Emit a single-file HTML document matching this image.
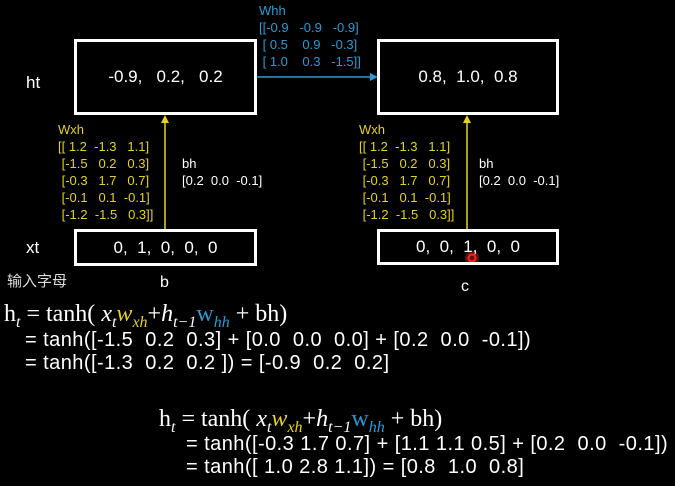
<!DOCTYPE html>
<html><head><meta charset="utf-8"><style>
body{margin:0;width:675px;height:486px;background:#000;overflow:hidden;position:relative;font-family:"Liberation Sans","Noto Sans CJK SC",sans-serif;color:#fff}
.a{position:absolute;white-space:pre;line-height:1}
.box{position:absolute;border:3px solid #fff;box-sizing:border-box;display:flex;align-items:center;justify-content:center;font-size:17px;white-space:pre}
.y{color:#e6d21e}.b{color:#2a9ad6}
.m{font-size:13px;line-height:17px}
.s{font-family:"Liberation Serif",serif;font-size:24px}
.s sub{font-size:16px}
.i{font-style:italic}
.eq{font-size:20px;letter-spacing:0.45px}
</style></head><body>
<div class="a b m" style="left:259px;top:2px">Whh
[[-0.9   -0.9   -0.9]
 [ 0.5    0.9   -0.3]
 [ 1.0    0.3   -1.5]]</div>
<svg class="a" style="left:0;top:0" width="675" height="486">
<line x1="256" y1="77" x2="372" y2="77" stroke="#2a9ad6" stroke-width="1.5"/>
<polygon points="378,77 370,73 370,81" fill="#2a9ad6"/>
<line x1="165" y1="230" x2="165" y2="121" stroke="#e6d21e" stroke-width="1.5"/>
<polygon points="165,115 161,123 169,123" fill="#e6d21e"/>
<line x1="467" y1="229" x2="467" y2="121" stroke="#e6d21e" stroke-width="1.5"/>
<polygon points="467,115 463,123 471,123" fill="#e6d21e"/>
<circle cx="472" cy="258" r="7" fill="rgba(255,60,60,0.35)"/>
<circle cx="472" cy="258" r="3.5" fill="none" stroke="#ff2020" stroke-width="2"/>
</svg>
<div class="a" style="left:26px;top:74px;font-size:17px">ht</div>
<div class="box" style="left:74px;top:39px;width:183px;height:76px">-0.9,   0.2,   0.2</div>
<div class="box" style="left:377px;top:39px;width:182px;height:76px">0.8,  1.0,  0.8</div>
<div class="a y m" style="left:58px;top:121px">Wxh
[[ 1.2  -1.3   1.1]
 [-1.5   0.2   0.3]
 [-0.3   1.7   0.7]
 [-0.1   0.1  -0.1]
 [-1.2  -1.5   0.3]]</div>
<div class="a m" style="left:182px;top:155px">bh
[0.2  0.0  -0.1]</div>
<div class="a y m" style="left:359px;top:121px">Wxh
[[ 1.2  -1.3   1.1]
 [-1.5   0.2   0.3]
 [-0.3   1.7   0.7]
 [-0.1   0.1  -0.1]
 [-1.2  -1.5   0.3]]</div>
<div class="a m" style="left:479px;top:155px">bh
[0.2  0.0  -0.1]</div>
<div class="a" style="left:26px;top:239px;font-size:17px">xt</div>
<div class="box" style="left:74px;top:229px;width:183px;height:37px">0,  1,  0,  0,  0</div>
<div class="box" style="left:377px;top:229px;width:182px;height:36px">0,  0,  1,  0,  0</div>
<div class="a" style="left:7px;top:274px;font-size:15px;color:#ddd">输入字母</div>
<div class="a" style="left:160px;top:275px;font-size:16px">b</div>
<div class="a" style="left:461px;top:279px;font-size:16px">c</div>
<div class="a s" style="left:4px;top:302px">h<sub class="i">t</sub> = tanh( <span class="i">x<sub>t</sub></span><span class="y i">w<sub>xh</sub></span>+<span class="i">h<sub>t−1</sub></span><span class="b">w<sub class="i">hh</sub></span> + bh)</div>
<div class="a eq" style="left:25px;top:330px">= tanh([-1.5  0.2  0.3] + [0.0  0.0  0.0] + [0.2  0.0  -0.1])</div>
<div class="a eq" style="left:25px;top:353px">= tanh([-1.3  0.2  0.2 ]) = [-0.9  0.2  0.2]</div>
<div class="a s" style="left:159px;top:407px">h<sub class="i">t</sub> = tanh( <span class="i">x<sub>t</sub></span><span class="y i">w<sub>xh</sub></span>+<span class="i">h<sub>t−1</sub></span><span class="b">w<sub class="i">hh</sub></span> + bh)</div>
<div class="a eq" style="left:186px;top:434px">= tanh([-0.3 1.7 0.7] + [1.1 1.1 0.5] + [0.2  0.0  -0.1])</div>
<div class="a eq" style="left:186px;top:457px">= tanh([ 1.0 2.8 1.1]) = [0.8  1.0  0.8]</div>
</body></html>
